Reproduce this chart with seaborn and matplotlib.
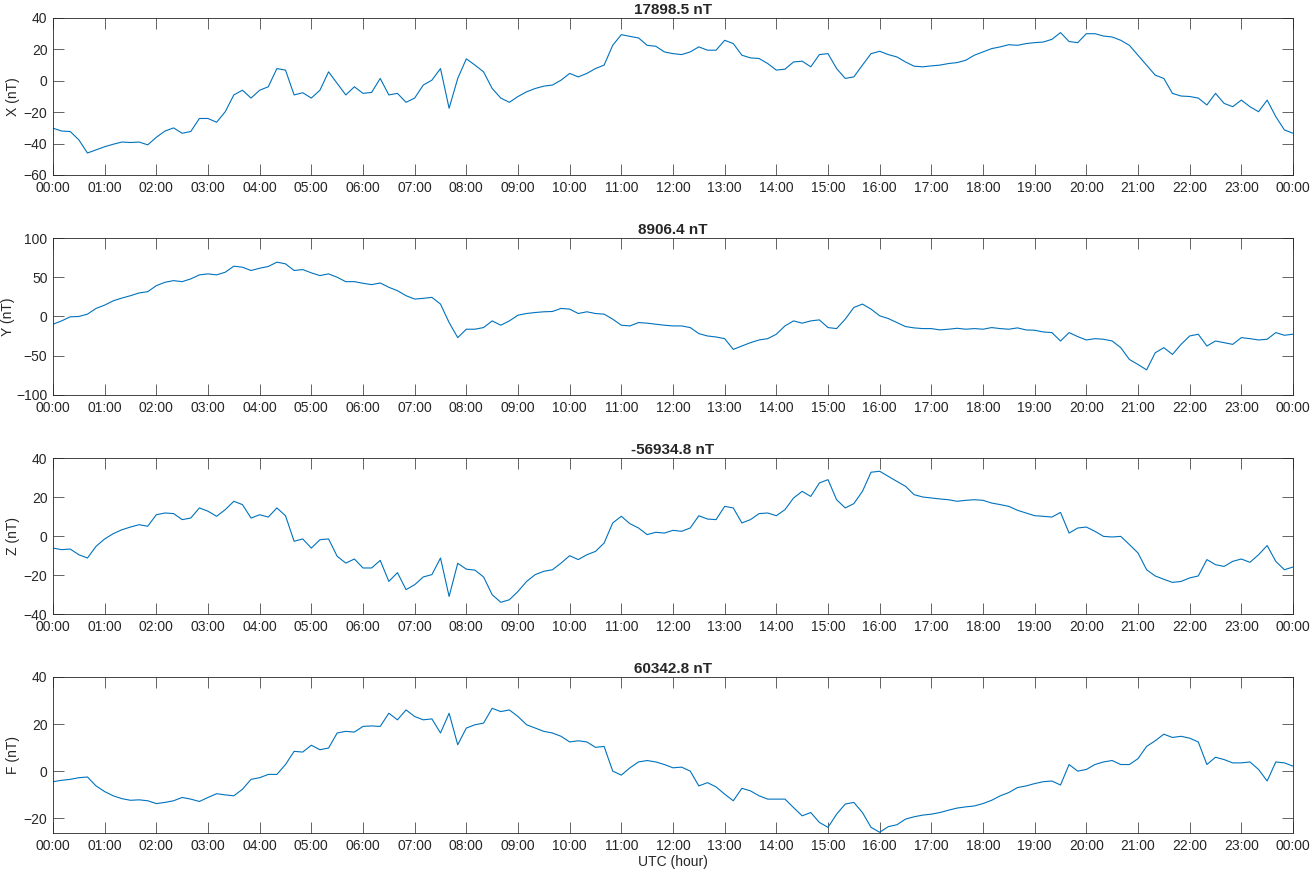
import numpy as np
import pandas as pd
import matplotlib
matplotlib.use("Agg")
import matplotlib.pyplot as plt
import seaborn as sns

# ---- data (10-minute samples, 00:00 .. 24:00) ----
hours = np.linspace(0, 24, 145)

x_values = [
    -30.2, -32, -32.3, -37.6, -46, -44,
    -42, -40.4, -39, -39.3, -39, -40.8,
    -36, -32, -30, -33.4, -32.3, -24,
    -24, -26.4, -19.7, -9, -6, -11,
    -6, -3.8, 7.8, 6.8, -9, -7.6,
    -11, -6, 5.7, -1.7, -9, -3.8,
    -8, -7.4, 1.5, -9, -8, -13.7,
    -11, -2.7, 0.4, 7.8, -17.5, 1.5,
    14, 10, 5.7, -4.9, -11, -13.7,
    -10, -7, -4.9, -3.4, -2.7, 0.4,
    4.7, 2.5, 4.7, 7.8, 10, 22.6,
    29.4, 28.3, 27.3, 22.6, 22, 18.4,
    17.3,
    16.7, 18.4, 21.6, 19.5, 19.5,
    25.8, 23.7, 16.3, 14.6, 14.2, 11,
    6.8, 7.4, 12, 12.5, 8.9, 16.7,
    17.3, 7.8, 1.5, 2.5, 10, 17.3,
    18.8, 16.7, 15.2, 12, 9.3, 8.9,
    9.5, 10, 11, 11.6, 13.1, 16.3,
    18.4, 20.5, 21.6, 23, 22.6, 23.7,
    24.3, 24.7, 26.4, 30.7, 25, 24.3,
    30, 30, 28.5, 27.9, 25.8, 22.6,
    16.3, 10, 3.6, 1.5, -8, -9.7,
    -10, -11, -15.4, -8, -14.4, -16.5,
    -12.3, -16.5, -19.7, -12.3, -22.8, -31.3,
    -33.4,
]

y_values = [
    -9.8, -5.6, -0.4, 0, 3, 10.3,
    14.5, 20, 23.5, 26.5, 30, 31.6,
    39.3, 43.6, 45.7, 44.4, 47.9, 53,
    54.3, 53, 56.4, 64.1, 62.8, 58.6,
    61.5, 63.7, 69.2, 67.1, 58.6, 59.8,
    55.6, 52.1, 54.3, 50, 44.4, 44.4,
    42.3, 40.6, 42.7, 37.2, 32.9, 26.5,
    22.2, 23.1, 24.4, 15.8, -7.7, -26.9,
    -16.2, -16.2, -14.1, -5.6, -11.1, -5.6,
    1.7, 3.8, 5.1, 6, 6.4, 10.3,
    9.4, 3.8, 6, 3.8, 3, -3.4,
    -11.1, -12, -7.7, -8.5, -9.8, -11.1,
    -12,
    -12, -14.1, -21.8, -24.8, -26.1,
    -28.2, -41.9, -37.6, -33.3, -29.9, -28.2,
    -22.6, -12, -5.6, -8.5, -5.6, -4.3,
    -14.1, -15.4, -3.4, 11.5, 15.8, 9.4,
    0.9, -2.6, -7.7, -12.8, -14.5, -15.4,
    -15.4, -17.1, -16.2, -15, -16.2, -15.4,
    -16.2, -14.1, -15.4, -16.2, -14.5, -17.1,
    -17.5, -19.7, -20.5, -31.2, -20.5, -25.6,
    -29.9, -28.2, -29, -31.2, -39.7, -54.7,
    -61.1, -68, -46.2, -39.7, -48.3, -35.5,
    -24.8, -22.6, -37.6, -31.2, -33.3, -35.5,
    -26.9, -28.2, -29.9, -29, -20.5, -23.9,
    -22.6,
]

z_values = [
    -6.2, -7, -6.7, -9.6, -11.3, -5.3,
    -1.5, 1.2, 3.2, 4.6, 5.8, 5,
    10.9, 11.8, 11.5, 8.4, 9.2, 14.4,
    12.7, 10.1, 13.5, 17.8, 16.1, 9.2,
    10.9, 9.7, 14.4, 10.4, -2.7, -1.5,
    -6.2, -1.9, -1.5, -10.4, -13.9, -11.8,
    -16.4, -16.4, -12.5, -23.3, -18.8, -27.5,
    -25, -21, -19.8, -11.3, -31, -14,
    -17, -17.5, -21, -30.1, -34, -32.7,
    -28.4, -23.3, -19.8, -18.1, -17.3, -13.9,
    -10.1, -12.1, -9.6, -7.9, -3.6, 6.7,
    10.1, 6.3, 4.1, 0.7, 1.9, 1.5,
    2.9,
    2.4, 4.1, 10.4, 8.7, 8.4,
    15.2, 14.4, 6.7, 8.4, 11.5, 11.8,
    10.4, 13.5, 19.5, 22.9, 20.3, 27.2,
    28.9, 18.6, 14.4, 16.6, 22.9, 32.7,
    33.2, 30.6, 28, 25.5, 21.2, 20,
    19.5, 19, 18.6, 17.8, 18.3, 18.6,
    18.3, 16.9, 16.1, 15.2, 13.2, 11.8,
    10.4, 10.1, 9.7, 12.1, 1.5, 4.1,
    4.6, 2.4, -0.2, -0.5, -0.2, -4.4,
    -8.7, -17.3, -20.5, -22.2, -23.8, -23.3,
    -21.5, -20.5, -12.1, -14.7, -15.6, -13,
    -11.8, -13.5, -9.6, -4.9, -13, -17.3,
    -15.9,
]

f_values = [
    -4.5, -3.9, -3.5, -2.8, -2.5, -6.3,
    -8.7, -10.5, -11.7, -12.4, -12.2, -12.6,
    -13.8, -13.3, -12.6, -11.2, -11.9, -12.9,
    -11.2, -9.6, -10.1, -10.5, -7.7, -3.5,
    -2.8, -1.4, -1.4, 2.8, 8.4, 8.1,
    11, 9.1, 9.8, 16.2, 16.9, 16.6,
    19, 19.2, 19, 24.6, 21.8, 26,
    23.2, 21.8, 22.2, 16.2, 24.6, 11.2,
    18.3, 19.7, 20.4, 26.7, 25.3, 26,
    23.2, 19.7, 18.3, 16.9, 16.2, 14.8,
    12.4, 12.9, 12.4, 10.1, 10.5, 0,
    -1.7, 1.4, 3.9, 4.5, 3.9, 2.8,
    1.4,
    1.7, 0, -6.3, -4.9, -6.7,
    -9.8, -12.6, -7.3, -8.4, -10.5, -11.9,
    -11.9, -11.9, -15.5, -19, -17.6, -21.8,
    -23.9, -18.3, -14, -13.3, -17.6, -23.9,
    -26, -23.6, -22.8, -20.4, -19.4, -18.7,
    -18.3, -17.6, -16.6, -15.7, -15.2, -14.8,
    -13.8, -12.4, -10.5, -9.1, -7, -6.3,
    -5.3, -4.5, -4.2, -5.9, 2.8, 0,
    0.7, 2.8, 3.9, 4.5, 2.8, 2.8,
    5.3, 10.5, 12.9, 15.7, 14.3, 14.8,
    14, 12.4, 2.8, 5.9, 4.9, 3.5,
    3.5, 3.9, 0.7, -4.2, 3.9, 3.5,
    2.1,
]

titles = ["17898.5 nT", "8906.4 nT", "-56934.8 nT", "60342.8 nT"]
ylabels = ["X (nT)", "Y (nT)", "Z (nT)", "F (nT)"]
ylims = [(-60, 40), (-100, 100), (-40, 40), (-26.3, 40)]
yticks = [[-60, -40, -20, 0, 20, 40], [-100, -50, 0, 50, 100],
          [-40, -20, 0, 20, 40], [-20, 0, 20, 40]]
xtick_hours = list(range(25))
xtick_labels = [f"{h % 24:02d}:00" for h in xtick_hours]
series = [x_values, y_values, z_values, f_values]

# ---- style ----
sns.set_style("ticks")
plt.rcParams['font.family'] = ['Liberation Sans', 'DejaVu Sans']
plt.rcParams.update({
    'xtick.direction': 'in', 'ytick.direction': 'in',
    'xtick.top': True, 'ytick.right': True,
    'xtick.major.size': 8, 'ytick.major.size': 8,
    'xtick.major.width': 0.5, 'ytick.major.width': 0.5,
    'axes.linewidth': 0.6, 'axes.edgecolor': '#262626',
    'xtick.color': '#262626', 'ytick.color': '#262626',
    'xtick.labelsize': 10, 'ytick.labelsize': 10,
})

fig = plt.figure(figsize=(13.16, 8.72), dpi=100)
W, H = 1316, 872
left_px, width_px = 53, 1240
left, width = left_px / W, width_px / W
panel_px = [(18, 175), (238, 395), (458, 614), (677, 833)]
ylabel_right_px = [20, 15, 20, 20]

for i, (top, bot) in enumerate(panel_px):
    ax = fig.add_axes([left, 1 - bot / H, width, (bot - top) / H])
    df = pd.DataFrame({"hour": hours, "val": series[i]})
    sns.lineplot(data=df, x="hour", y="val", ax=ax, color="#0072BD",
                 linewidth=0.8)
    ax.set_xlim(0, 24)
    ax.set_ylim(*ylims[i])
    ax.set_yticks(yticks[i])
    ax.set_xticks(xtick_hours)
    ax.set_xticklabels(xtick_labels)
    ax.set_ylabel(ylabels[i], fontsize=10, color='#262626')
    ax.yaxis.set_label_coords(-(left_px - ylabel_right_px[i]) / width_px, 0.5)
    ax.set_title(titles[i], fontsize=11, fontweight='bold', pad=3)
    ax.tick_params(axis='x', pad=4)
    ax.tick_params(axis='y', pad=4)
    if i == 3:
        ax.set_xlabel("UTC (hour)", fontsize=10, color='#262626', labelpad=2)
    else:
        ax.set_xlabel("")
    for s in ax.spines.values():
        s.set_visible(True)

fig.savefig("out.png", dpi=100)
